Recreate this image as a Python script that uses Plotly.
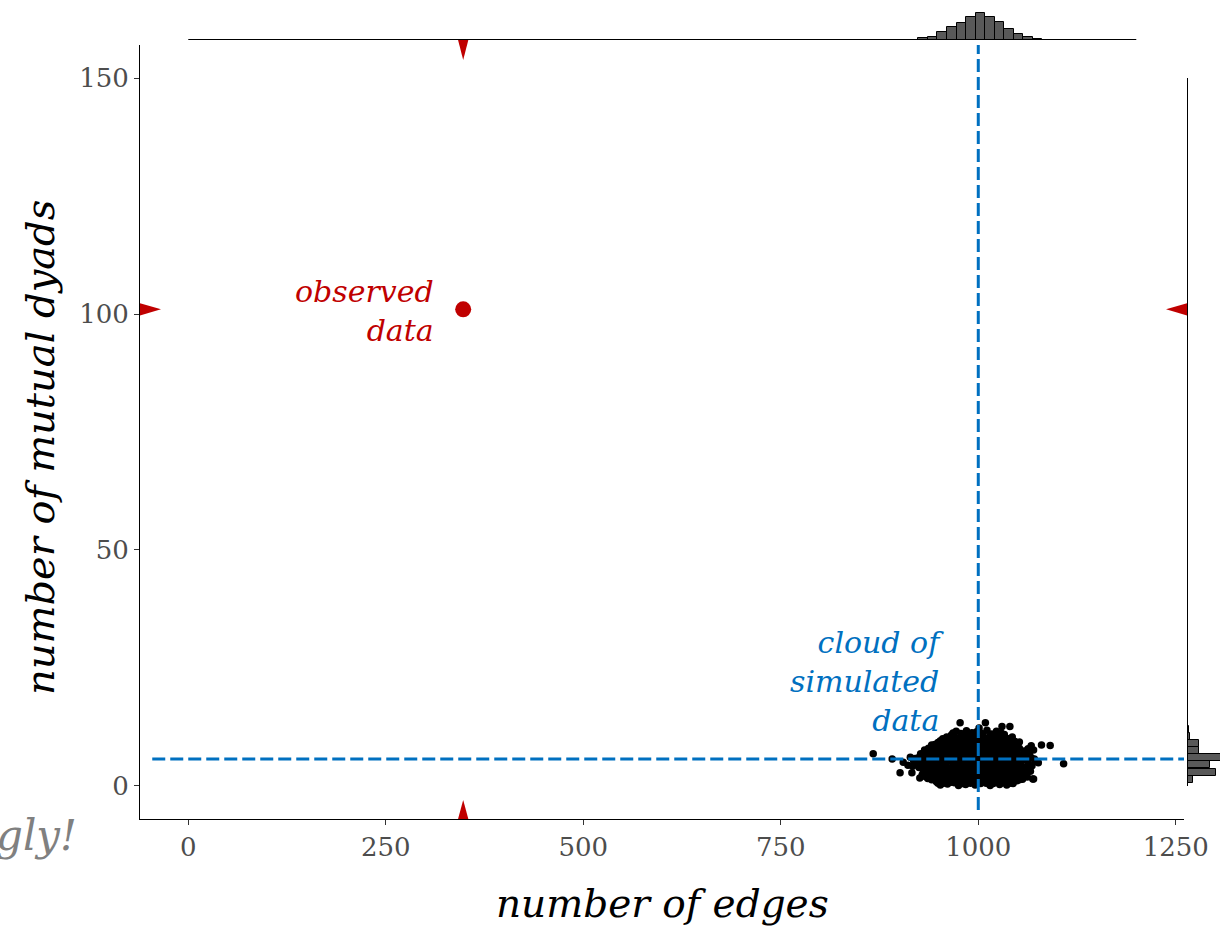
import plotly.graph_objects as go

# ---------------- data ----------------
obs_edges = 348
obs_mutual = 101
sim_mean_edges = 1000
sim_mean_mutual = 5.7

sim_edges = [
    952, 961, 975, 984, 996, 1003, 1015, 1027, 1036,
    947, 958, 966, 979, 988, 994, 1007, 1012, 1021, 1033, 1044, 1049,
    936, 944, 953, 962, 971, 983, 991, 999, 1010, 1018, 1026, 1038, 1047, 1056, 1069,
    929, 940, 948, 957, 967, 976, 985, 993, 1004, 1013, 1022, 1031, 1040, 1052, 1061,
    916, 934, 943, 951, 960, 969, 978, 988, 997, 1006, 1016, 1025, 1034, 1045, 1057, 1066,
    925, 937, 946, 955, 964, 973, 982, 991, 1001, 1009, 1019, 1028, 1038, 1049, 1059,
    911, 921, 932, 941, 950, 959, 968, 977, 986, 995, 1004, 1013, 1023, 1032, 1041, 1053, 1064, 1108,
    891, 918, 928, 937, 946, 955, 965, 974, 983, 992, 1001, 1010, 1020, 1029, 1037, 1048, 1060, 1072,
    914, 924, 933, 943, 952, 961, 970, 980, 989, 998, 1007, 1016, 1026, 1035, 1044, 1056, 1067,
    867, 927, 939, 948, 957, 966, 976, 985, 994, 1003, 1012, 1022, 1031, 1040, 1051, 1062,
    932, 944, 953, 962, 971, 981, 990, 999, 1008, 1018, 1027, 1036, 1047, 1058, 1070,
    941, 950, 959, 968, 977, 987, 996, 1005, 1014, 1024, 1034, 1045, 1067, 1080, 1091,
    949, 957, 966, 975, 984, 993, 1002, 1011, 1021, 1030, 1041, 1052,
    955, 963, 972, 981, 990, 999, 1009, 1019, 1028, 1038,
    966, 979, 988, 997, 1006, 1016, 1026, 1033,
    972, 985, 998, 1011, 1023,
    1030, 1040, 1001,
    977, 1009,
    901, 926, 949, 1044, 1070,
    956, 970, 980, 990, 1000, 1010, 1019, 1030, 1040,
    941, 951, 962, 971, 980, 990, 1000, 1009, 1017, 1027, 1037, 1052,
    933, 949, 958, 967, 976, 987, 996, 1005, 1014, 1023, 1034, 1043, 1051, 1062,
    945, 953, 962, 972, 981, 990, 999, 1008, 1018, 1027, 1036, 1047, 1056,
    930, 940, 948, 956, 965, 974, 984, 993, 1002, 1011, 1021, 1030, 1041, 1051, 1062,
    917, 929, 942, 951, 960, 969, 978, 987, 996, 1005, 1015, 1024, 1034, 1045, 1055, 1068,
    905, 923, 933, 942, 951, 960, 970, 979, 988, 997, 1006, 1015, 1025, 1033, 1042, 1052, 1063, 1076,
    920, 929, 938, 948, 957, 966, 976, 985, 994, 1003, 1012, 1021, 1031, 1039, 1050, 1061, 1071,
    931, 940, 950, 959, 968, 978, 987, 996, 1005, 1014, 1024, 1033, 1042, 1053, 1065,
    936, 945, 954, 963, 972, 982, 991, 1000, 1009, 1019, 1028, 1038, 1049, 1060,
    937, 948, 957, 966, 976, 985, 994, 1003, 1012, 1022, 1031, 1041, 1052, 1063,
    945, 954, 963, 972, 981, 990, 999, 1008, 1018, 1027, 1036, 1048,
    952, 961, 970, 979, 988, 997, 1006, 1016, 1025, 1035, 1046,
    960, 969, 978, 986, 995, 1004, 1014, 1023, 1032, 1043,
    968, 978, 992, 1003, 1017, 1029,
]
sim_mutual = [
    0.2, 0.4, 0.1, 0.3, 0.2, 0.5, 0.1, 0.3, 0.2,
    0.9, 1.0, 0.8, 1.1, 0.9, 0.8, 1.0, 1.2, 0.9, 1.0, 0.8, 1.1,
    1.6, 1.5, 1.7, 1.6, 1.4, 1.7, 1.6, 1.5, 1.8, 1.6, 1.5, 1.7, 1.6, 1.4, 1.5,
    2.4, 2.3, 2.5, 2.4, 2.2, 2.5, 2.4, 2.3, 2.6, 2.4, 2.3, 2.5, 2.4, 2.2, 2.4,
    2.8, 3.1, 3.0, 3.2, 3.1, 2.9, 3.2, 3.1, 3.0, 3.2, 3.1, 2.9, 3.1, 3.2, 3.0, 3.1,
    3.9, 3.8, 4.0, 3.9, 3.7, 4.0, 3.9, 3.8, 4.1, 3.9, 3.8, 4.0, 3.9, 3.7, 3.9,
    4.4, 4.6, 4.5, 4.7, 4.6, 4.4, 4.7, 4.6, 4.5, 4.7, 4.6, 4.4, 4.6, 4.7, 4.5, 4.6, 4.4, 4.7,
    5.7, 5.4, 5.3, 5.5, 5.4, 5.2, 5.5, 5.4, 5.3, 5.6, 5.4, 5.3, 5.5, 5.4, 5.2, 5.4, 5.5, 5.3,
    6.1, 6.0, 6.2, 6.1, 5.9, 6.2, 6.1, 6.0, 6.3, 6.1, 6.0, 6.2, 6.1, 5.9, 6.1, 6.2, 6.0,
    6.8, 6.8, 6.7, 6.9, 6.8, 6.6, 6.9, 6.8, 6.7, 7.0, 6.8, 6.7, 6.9, 6.8, 6.6, 6.8,
    7.6, 7.5, 7.7, 7.6, 7.4, 7.7, 7.6, 7.5, 7.8, 7.6, 7.5, 7.7, 7.6, 7.4, 7.6,
    8.7, 8.4, 8.3, 8.5, 8.4, 8.2, 8.5, 8.4, 8.3, 8.6, 8.4, 8.3, 8.5, 8.7, 8.6,
    9.2, 9.1, 9.3, 9.2, 9.0, 9.3, 9.2, 9.1, 9.4, 9.2, 9.1, 9.3,
    10.0, 9.9, 10.1, 10.0, 9.8, 10.1, 10.0, 9.9, 10.2, 10.0,
    10.8, 10.9, 10.7, 10.8, 11.0, 10.8, 10.7, 10.9,
    11.6, 11.7, 11.5, 11.8, 11.6,
    12.6, 12.6, 12.3,
    13.4, 13.4,
    2.8, 1.7, 0.6, 0.5, 1.5,
    0.6, 0.7, 0.5, 0.6, 0.8, 0.6, 0.5, 0.7, 0.6,
    1.3, 1.2, 1.4, 1.3, 1.1, 1.4, 1.3, 1.2, 1.4, 1.3, 1.2, 1.3,
    2.0, 1.9, 2.1, 2.0, 1.8, 2.1, 2.0, 1.9, 2.1, 2.0, 1.9, 2.1, 2.0, 1.9,
    2.7, 2.8, 2.6, 2.7, 2.9, 2.7, 2.6, 2.8, 2.7, 2.6, 2.8, 2.7, 2.6,
    3.5, 3.4, 3.6, 3.5, 3.3, 3.6, 3.5, 3.4, 3.6, 3.5, 3.4, 3.6, 3.5, 3.4, 3.5,
    4.2, 4.1, 4.3, 4.2, 4.0, 4.3, 4.2, 4.1, 4.3, 4.2, 4.1, 4.3, 4.2, 4.1, 4.2, 4.3,
    5.0, 4.9, 5.1, 5.0, 4.8, 5.1, 5.0, 4.9, 5.1, 5.0, 4.9, 5.1, 5.0, 4.9, 5.0, 5.1, 5.0, 4.9,
    5.8, 5.7, 5.9, 5.8, 5.6, 5.9, 5.8, 5.7, 5.9, 5.8, 5.7, 5.9, 5.8, 5.7, 5.8, 5.9, 5.7,
    6.5, 6.4, 6.6, 6.5, 6.3, 6.6, 6.5, 6.4, 6.6, 6.5, 6.4, 6.6, 6.5, 6.4, 6.5,
    7.2, 7.1, 7.3, 7.2, 7.0, 7.3, 7.2, 7.1, 7.3, 7.2, 7.1, 7.3, 7.2, 7.1,
    8.0, 7.9, 8.1, 8.0, 7.8, 8.1, 8.0, 7.9, 8.1, 8.0, 7.9, 8.1, 8.0, 7.9,
    8.8, 8.7, 8.9, 8.8, 8.6, 8.9, 8.8, 8.7, 8.9, 8.8, 8.7, 8.8,
    9.6, 9.5, 9.7, 9.6, 9.4, 9.7, 9.6, 9.5, 9.7, 9.6, 9.5,
    10.4, 10.3, 10.5, 10.4, 10.2, 10.5, 10.4, 10.3, 10.5, 10.4,
    11.2, 11.1, 11.3, 11.2, 11.0, 11.2,
]

# marginal histogram of edges (top)
edge_bin_centers = [930, 942, 954, 967, 979, 991, 1003, 1015, 1027, 1039, 1051, 1063, 1075]
edge_bin_counts = [10, 20, 46, 80, 100, 140, 160, 140, 110, 66, 38, 16, 8]
edge_bin_width = 12.2
edge_hist_span = [0, 1200]

# marginal histogram of mutual dyads (right)
mutual_bin_centers = [1.45, 2.95, 4.5, 6.1, 7.55, 9.0, 10.5, 12.05, 13.6]
mutual_bin_counts = [34, 176, 136, 240, 70, 70, 18, 12, 4]
mutual_bin_width = 1.5
mutual_hist_span = [0, 150]

x_ticks = [0, 250, 500, 750, 1000, 1250]
y_ticks = [0, 50, 100, 150]

# ---------------- styling ----------------
RED = "#C00000"
BLUE = "#0070C0"
FONT = "DejaVu Serif"
W, H = 1220, 926
ML, MB = 140, 107
plot_w = W - ML
plot_h = H - MB

def px_x(p):
    return (p - ML) / plot_w

def px_y(p):
    return (plot_h - p) / plot_h

x_range = [-61.1, 1260.4]
y_range = [-7.0, 157.0]
main_x_dom = [0, px_x(1184)]
main_y_dom = [0, px_y(45)]

fig = go.Figure()

# simulated cloud
fig.add_trace(go.Scatter(
    x=sim_edges, y=sim_mutual, mode="markers",
    marker=dict(color="black", size=7.5),
    xaxis="x", yaxis="y", showlegend=False, hoverinfo="skip",
))

# dashed mean lines
fig.add_trace(go.Scatter(
    x=[sim_mean_edges, sim_mean_edges], y=[-5.1, 157.6], mode="lines",
    line=dict(color=BLUE, width=3, dash="13px,5px"),
    xaxis="x", yaxis="y", showlegend=False, cliponaxis=False, hoverinfo="skip",
))
fig.add_trace(go.Scatter(
    x=[-45.6, 1260.4], y=[sim_mean_mutual, sim_mean_mutual], mode="lines",
    line=dict(color=BLUE, width=3, dash="13px,5px"),
    xaxis="x", yaxis="y", showlegend=False, cliponaxis=False, hoverinfo="skip",
))

# observed point
fig.add_trace(go.Scatter(
    x=[obs_edges], y=[obs_mutual], mode="markers",
    marker=dict(color=RED, size=16),
    xaxis="x", yaxis="y", showlegend=False, hoverinfo="skip",
))

# top histogram
fig.add_trace(go.Scatter(
    x=edge_hist_span, y=[0, 0], mode="lines",
    line=dict(color="black", width=2),
    xaxis="x2", yaxis="y2", showlegend=False, hoverinfo="skip", cliponaxis=False,
))
fig.add_trace(go.Bar(
    x=edge_bin_centers, y=edge_bin_counts, width=edge_bin_width,
    marker=dict(color="#595959", line=dict(color="black", width=1)),
    xaxis="x2", yaxis="y2", showlegend=False, hoverinfo="skip",
))

# right histogram
fig.add_trace(go.Scatter(
    x=[0, 0], y=mutual_hist_span, mode="lines",
    line=dict(color="black", width=2),
    xaxis="x3", yaxis="y3", showlegend=False, hoverinfo="skip", cliponaxis=False,
))
fig.add_trace(go.Bar(
    y=mutual_bin_centers, x=mutual_bin_counts, width=mutual_bin_width, orientation="h",
    marker=dict(color="#595959", line=dict(color="black", width=1)),
    xaxis="x3", yaxis="y3", showlegend=False, hoverinfo="skip",
))

# red triangles marking observed value on axes
tri_half_x = 6.5   # data units
tri_half_y = 1.3   # data units
shapes = []
shapes.append(dict(type="path", xref="x", yref="paper",
    path=f"M {obs_edges - tri_half_x} {px_y(40)} L {obs_edges + tri_half_x} {px_y(40)} L {obs_edges} {px_y(60)} Z",
    fillcolor=RED, line=dict(width=0)))
shapes.append(dict(type="path", xref="x", yref="paper",
    path=f"M {obs_edges - tri_half_x} {px_y(819)} L {obs_edges + tri_half_x} {px_y(819)} L {obs_edges} {px_y(800)} Z",
    fillcolor=RED, line=dict(width=0)))
shapes.append(dict(type="path", xref="paper", yref="y",
    path=f"M {px_x(140)} {obs_mutual - tri_half_y} L {px_x(140)} {obs_mutual + tri_half_y} L {px_x(161)} {obs_mutual} Z",
    fillcolor=RED, line=dict(width=0)))
shapes.append(dict(type="path", xref="paper", yref="y",
    path=f"M {px_x(1187)} {obs_mutual - tri_half_y} L {px_x(1187)} {obs_mutual + tri_half_y} L {px_x(1166)} {obs_mutual} Z",
    fillcolor=RED, line=dict(width=0)))

annotations = [
    dict(text="observed<br>data", x=314, y=100.6, xref="x", yref="y",
         xanchor="right", yanchor="middle", align="right", showarrow=False,
         font=dict(family=FONT, size=30, color=RED, style="italic")),
    dict(text="cloud of<br>simulated<br>data", x=959, y=22.2, xref="x", yref="y",
         xanchor="right", yanchor="middle", align="right", showarrow=False,
         font=dict(family=FONT, size=30, color=BLUE, style="italic")),
    dict(text="number of edges", x=(main_x_dom[0] + main_x_dom[1]) / 2, y=px_y(903),
         xref="paper", yref="paper", xanchor="center", yanchor="middle", showarrow=False,
         font=dict(family=FONT, size=39, color="black", style="italic")),
    dict(text="number of mutual dyads", x=px_x(40), y=px_y(448),
         xref="paper", yref="paper", xanchor="center", yanchor="middle", showarrow=False,
         textangle=-90,
         font=dict(family=FONT, size=40, color="black", style="italic")),
    dict(text="gly!", x=px_x(79), y=px_y(836),
         xref="paper", yref="paper", xanchor="right", yanchor="middle", showarrow=False,
         font=dict(family=FONT, size=42, color="#808080", style="italic")),
]

tickfont = dict(family=FONT, size=26, color="#4D4D4D")

fig.update_layout(
    template="none",
    width=W, height=H, autosize=False,
    margin=dict(l=ML, r=0, t=0, b=MB, pad=0, autoexpand=False),
    plot_bgcolor="white", paper_bgcolor="white",
    showlegend=False, bargap=0,
    shapes=shapes, annotations=annotations,
    xaxis=dict(domain=main_x_dom, range=x_range, tickvals=x_ticks, automargin=False,
               showgrid=False, zeroline=False, showline=True, linecolor="black", linewidth=1,
               ticks="outside", ticklen=5, tickcolor="#333333", tickfont=tickfont, anchor="y"),
    yaxis=dict(domain=main_y_dom, range=y_range, tickvals=y_ticks, automargin=False,
               showgrid=False, zeroline=False, showline=True, linecolor="black", linewidth=1,
               ticks="outside", ticklen=5, tickcolor="#333333", tickfont=tickfont, anchor="x"),
    xaxis2=dict(domain=main_x_dom, range=x_range, visible=False, anchor="y2", automargin=False),
    yaxis2=dict(domain=[px_y(40), 1.0], range=[0, 240], visible=False, anchor="x2", automargin=False),
    xaxis3=dict(domain=[px_x(1187), 1.0], range=[0, 198], visible=False, anchor="y3", automargin=False),
    yaxis3=dict(domain=main_y_dom, range=y_range, visible=False, anchor="x3", automargin=False),
)

fig.write_html("out.html", config={"responsive": False})
